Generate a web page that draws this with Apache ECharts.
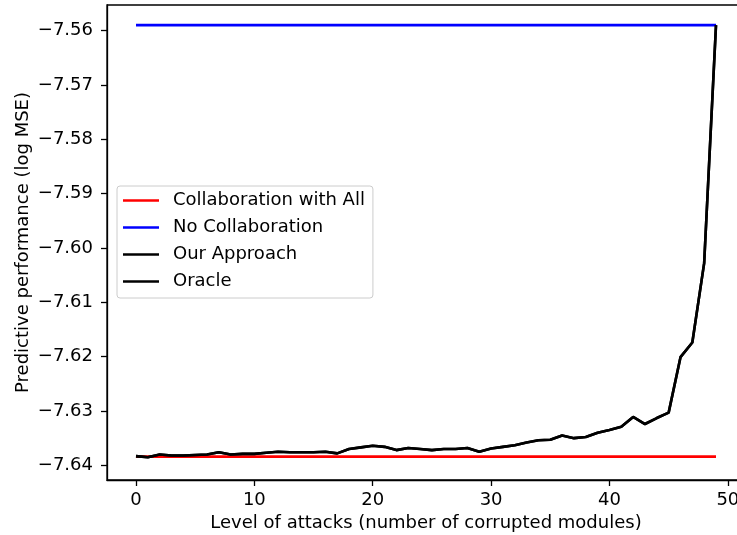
<!DOCTYPE html>
<html>
<head>
<meta charset="utf-8">
<script src="https://cdn.jsdelivr.net/npm/echarts@6/dist/echarts.min.js"></script>
<style>
html,body{margin:0;padding:0;background:#fff;}
#main{width:737px;height:535px;}
</style>
</head>
<body>
<div id="main"></div>
<script>
// Data
const levels = [0,1,2,3,4,5,6,7,8,9,10,11,12,13,14,15,16,17,18,19,20,21,22,23,24,25,26,27,28,29,30,31,32,33,34,35,36,37,38,39,40,41,42,43,44,45,46,47,48,49];
const ourApproach = [
  -7.6383, -7.6385, -7.6380, -7.6382, -7.6382, -7.6381, -7.6380, -7.6376, -7.6380, -7.6379,
  -7.6379, -7.6377, -7.6375, -7.6376, -7.6376, -7.6376, -7.6375, -7.6378, -7.6370, -7.6367,
  -7.6364, -7.6366, -7.6372, -7.6368, -7.6370, -7.6372, -7.6370, -7.6370, -7.6368, -7.6375,
  -7.6369, -7.6366, -7.6363, -7.6358, -7.6354, -7.6353, -7.6345, -7.6350, -7.6348, -7.6340,
  -7.6335, -7.6329, -7.6311, -7.6324, -7.6313, -7.6303, -7.6201, -7.6174, -7.6028, -7.5590
];
const oracle = ourApproach.slice();
const collabAllX = [0, 49];
const collabAllY = [-7.6384, -7.6384];
const noCollabX = [0, 49];
const noCollabY = [-7.559, -7.559];
const xTicks = [0, 10, 20, 30, 40, 50];
const yTicks = [-7.64, -7.63, -7.62, -7.61, -7.60, -7.59, -7.58, -7.57, -7.56];
const seriesNames = ['Collaboration with All', 'No Collaboration', 'Our Approach', 'Oracle'];

const FONT = 'DejaVu Sans';
const FS = 18;
const LW = 2.6;
const chart = echarts.init(document.getElementById('main'), null, {renderer: 'canvas'});

function pairs(xs, ys) { return xs.map((x, i) => [x, ys[i]]); }

chart.setOption({
  animation: false,
  backgroundColor: '#fff',
  textStyle: {fontFamily: FONT},
  grid: {
    left: 107, top: 5, width: 638, height: 475,
    outerBoundsMode: 'none', containLabel: false,
    show: true, borderColor: '#000', borderWidth: 1.3, backgroundColor: 'transparent'
  },
  legend: {
    left: 117, top: 186,
    orient: 'vertical',
    data: seriesNames,
    icon: 'rect',
    itemWidth: 36, itemHeight: 2.6, itemGap: 0,
    padding: [1, 8, 3, 6],
    borderColor: '#cccccc', borderWidth: 1, borderRadius: 3,
    backgroundColor: 'rgba(255,255,255,0.8)',
    textStyle: {fontFamily: FONT, fontSize: FS, lineHeight: 27, color: '#000', padding: [0, 0, 0, 9]}
  },
  xAxis: {
    type: 'value',
    min: -2.45, max: 51.45,
    name: 'Level of attacks (number of corrupted modules)',
    nameLocation: 'middle', nameGap: 34, nameMoveOverlap: false,
    nameTextStyle: {fontFamily: FONT, fontSize: FS, color: '#000'},
    axisLine: {show: true, onZero: false, lineStyle: {color: '#000', width: 1.3}},
    axisTick: {show: true, length: 6, lineStyle: {color: '#000', width: 1.3}, customValues: xTicks},
    axisLabel: {fontFamily: FONT, fontSize: FS, color: '#000', margin: 11, customValues: xTicks,
      formatter: v => String(v)},
    splitLine: {show: false}
  },
  yAxis: {
    type: 'value',
    min: -7.6427, max: -7.5553,
    name: 'Predictive performance (log MSE)',
    nameLocation: 'middle', nameGap: 75, nameRotate: 90, nameMoveOverlap: false,
    nameTextStyle: {fontFamily: FONT, fontSize: FS, color: '#000'},
    axisLine: {show: true, onZero: false, lineStyle: {color: '#000', width: 1.3}},
    axisTick: {show: true, length: 6, lineStyle: {color: '#000', width: 1.3}, customValues: yTicks},
    axisLabel: {fontFamily: FONT, fontSize: FS, color: '#000', margin: 14, customValues: yTicks,
      formatter: v => (v < 0 ? '\u2212' : '') + Math.abs(v).toFixed(2)},
    splitLine: {show: false}
  },
  series: [
    {name: seriesNames[0], type: 'line', data: pairs(collabAllX, collabAllY), symbol: 'none',
      lineStyle: {color: '#ff0000', width: LW}, itemStyle: {color: '#ff0000'}},
    {name: seriesNames[1], type: 'line', data: pairs(noCollabX, noCollabY), symbol: 'none',
      lineStyle: {color: '#0000ff', width: LW}, itemStyle: {color: '#0000ff'}},
    {name: seriesNames[2], type: 'line', data: pairs(levels, ourApproach), symbol: 'none',
      lineStyle: {color: '#000000', width: LW}, itemStyle: {color: '#000000'}},
    {name: seriesNames[3], type: 'line', data: pairs(levels, oracle), symbol: 'none',
      lineStyle: {color: '#000000', width: LW}, itemStyle: {color: '#000000'}}
  ]
});
</script>
</body>
</html>
